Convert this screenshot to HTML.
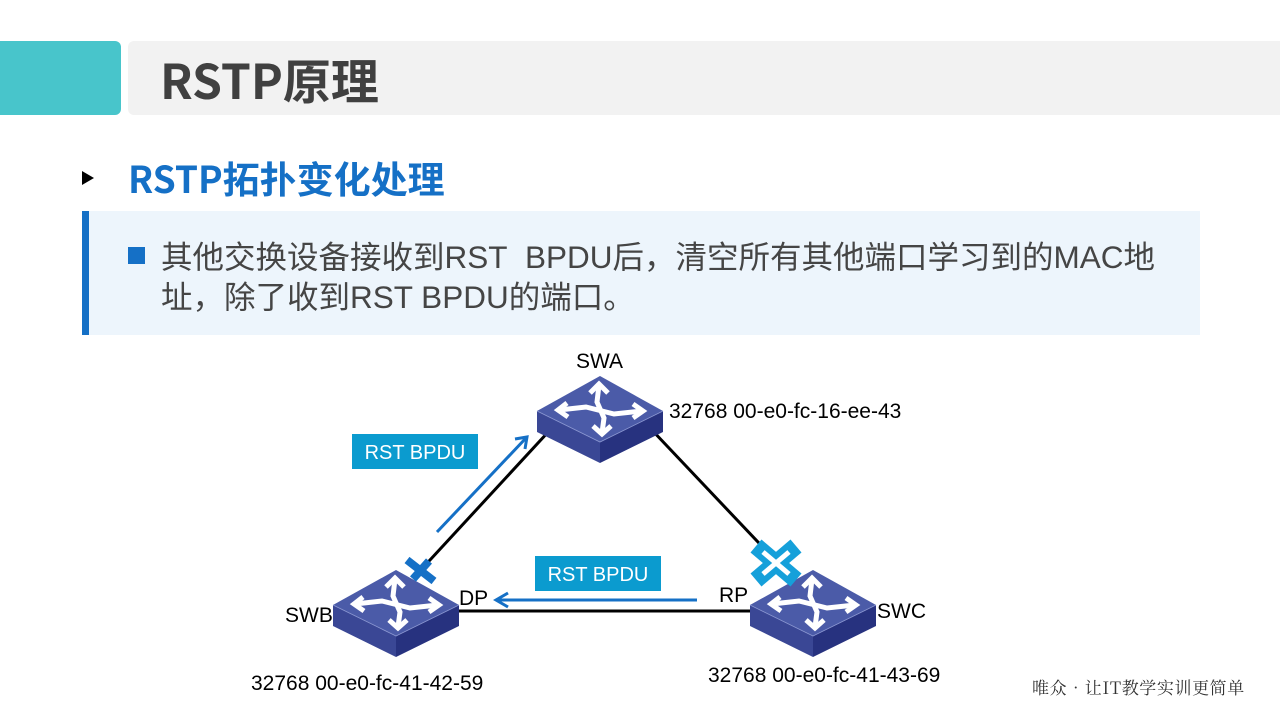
<!DOCTYPE html>
<html>
<head>
<meta charset="utf-8">
<style>
  html,body{margin:0;padding:0;}
  body{width:1280px;height:720px;position:relative;overflow:hidden;background:#fff;
       font-family:"Liberation Sans","Noto Sans CJK SC",sans-serif;}
  .teal{position:absolute;left:0;top:41px;width:121px;height:74px;background:#48C5CB;border-radius:0 6px 6px 0;}
  .gray{position:absolute;left:128px;top:41px;width:1152px;height:74px;background:#F2F2F2;border-radius:6px 0 0 6px;}
  .title{position:absolute;left:160px;top:41px;height:74px;line-height:74px;font-family:"Noto Sans CJK SC",sans-serif;
         font-weight:bold;font-size:48px;color:#404040;white-space:nowrap;}
  .tri{position:absolute;left:82px;top:171px;width:0;height:0;border-left:12px solid #000;border-top:7px solid transparent;border-bottom:7px solid transparent;}
  .sub{position:absolute;left:128px;top:155px;height:44px;line-height:44px;font-family:"Noto Sans CJK SC",sans-serif;
       font-weight:bold;font-size:37px;color:#1570C6;white-space:nowrap;}
  .box{position:absolute;left:82px;top:211px;width:1118px;height:124px;background:#EDF5FC;}
  .bar{position:absolute;left:82px;top:211px;width:7px;height:124px;background:#1570C6;}
  .sq{position:absolute;left:128px;top:247px;width:17px;height:17px;background:#1570C6;}
  .txt{position:absolute;left:161px;top:237px;line-height:40px;font-size:31.5px;color:#454545;white-space:nowrap;
       font-family:"Liberation Sans","Noto Sans CJK SC",sans-serif;}
  .foot{position:absolute;left:1032px;top:675px;font-size:17px;line-height:24px;color:#333;letter-spacing:0.6px;white-space:nowrap;
        font-family:"Noto Serif CJK SC","Liberation Serif",serif;}
  svg{position:absolute;left:0;top:0;}
</style>
</head>
<body>
<div class="teal"></div>
<div class="gray"></div>
<div class="title">RSTP原理</div>
<div class="tri"></div>
<div class="sub">RSTP拓扑变化处理</div>
<div class="box"></div>
<div class="bar"></div>
<div class="sq"></div>
<div class="txt">其他交换设备接收到RST&nbsp; BPDU后，清空所有其他端口学习到的MAC地<br>址，除了收到RST BPDU的端口。</div>

<svg width="1280" height="720" viewBox="0 0 1280 720" xmlns="http://www.w3.org/2000/svg">
  <!-- connection lines -->
  <g stroke="#000" stroke-width="3" fill="none">
    <line x1="418" y1="573" x2="550" y2="430"/>
    <line x1="650" y1="428" x2="792" y2="578"/>
    <line x1="455" y1="611" x2="755" y2="611"/>
  </g>

  <!-- SWA -->
  <g transform="translate(600,376)">
    <path d="M0,0 L63,35 L0,66 L-63,35 Z" fill="#4B5BA8"/>
    <path d="M-63,35 L0,66 L0,87 L-63,56 Z" fill="#3A4795"/>
    <path d="M0,66 L63,35 L63,56 L0,87 Z" fill="#27327F"/>
    <path d="M-63,35 L0,66 L63,35" stroke="#8C98D2" stroke-width="0.8" fill="none"/>
    <g stroke="#fff" stroke-width="5" fill="none" stroke-linejoin="miter">
      <polyline points="-1,9 -3,26 4,42 2,57"/>
      <polyline points="-10,17 -1,8 8,17"/>
      <polyline points="-7,50 2,58 11,50"/>
      <polyline points="-41,34 -14,31 14,38 42,35"/>
      <polyline points="-33,27 -42,34 -32,41"/>
      <polyline points="33,28 43,35 33,42"/>
    </g>
  </g>

  <!-- SWB -->
  <g transform="translate(396,570)">
    <path d="M0,0 L63,35 L0,66 L-63,35 Z" fill="#4B5BA8"/>
    <path d="M-63,35 L0,66 L0,87 L-63,56 Z" fill="#3A4795"/>
    <path d="M0,66 L63,35 L63,56 L0,87 Z" fill="#27327F"/>
    <path d="M-63,35 L0,66 L63,35" stroke="#8C98D2" stroke-width="0.8" fill="none"/>
    <g stroke="#fff" stroke-width="5" fill="none" stroke-linejoin="miter">
      <polyline points="-1,9 -3,26 4,42 2,57"/>
      <polyline points="-10,17 -1,8 8,17"/>
      <polyline points="-7,50 2,58 11,50"/>
      <polyline points="-41,34 -14,31 14,38 42,35"/>
      <polyline points="-33,27 -42,34 -32,41"/>
      <polyline points="33,28 43,35 33,42"/>
    </g>
  </g>

  <!-- SWC -->
  <g transform="translate(813,570)">
    <path d="M0,0 L63,35 L0,66 L-63,35 Z" fill="#4B5BA8"/>
    <path d="M-63,35 L0,66 L0,87 L-63,56 Z" fill="#3A4795"/>
    <path d="M0,66 L63,35 L63,56 L0,87 Z" fill="#27327F"/>
    <path d="M-63,35 L0,66 L63,35" stroke="#8C98D2" stroke-width="0.8" fill="none"/>
    <g stroke="#fff" stroke-width="5" fill="none" stroke-linejoin="miter">
      <polyline points="-1,9 -3,26 4,42 2,57"/>
      <polyline points="-10,17 -1,8 8,17"/>
      <polyline points="-7,50 2,58 11,50"/>
      <polyline points="-41,34 -14,31 14,38 42,35"/>
      <polyline points="-33,27 -42,34 -32,41"/>
      <polyline points="33,28 43,35 33,42"/>
    </g>
  </g>

  <!-- blue cross at SWB port -->
  <g stroke="#1570C6" stroke-width="8" stroke-linecap="butt">
    <line x1="407" y1="560" x2="434" y2="581"/>
    <line x1="413" y1="579" x2="429" y2="561"/>
  </g>

  <!-- big cyan X at SWC port -->
  <g transform="translate(776,563)">
    <g stroke="#15A0DA" stroke-width="17" stroke-linecap="butt">
      <line x1="-20" y1="-17" x2="20" y2="17"/>
      <line x1="20" y1="-17" x2="-20" y2="17"/>
    </g>
    <g stroke="#fff" stroke-width="5">
      <line x1="-13" y1="-11" x2="13" y2="11"/>
      <line x1="13" y1="-11" x2="-13" y2="11"/>
    </g>
  </g>

  <!-- blue arrows -->
  <g stroke="#1570C6" stroke-width="3" fill="none">
    <line x1="437" y1="532" x2="526" y2="438"/>
    <polyline points="515,439 527,437 525,449"/>
    <line x1="697" y1="600" x2="497" y2="600"/>
    <polyline points="508,593 496,600 508,607"/>
  </g>

  <!-- RST BPDU boxes -->
  <rect x="352" y="434" width="126" height="35" fill="#0B9BCF"/>
  <text x="415" y="459" font-family="Liberation Sans, sans-serif" font-size="20" fill="#fff" text-anchor="middle">RST BPDU</text>
  <rect x="535" y="556" width="126" height="35" fill="#0B9BCF"/>
  <text x="598" y="581" font-family="Liberation Sans, sans-serif" font-size="20" fill="#fff" text-anchor="middle">RST BPDU</text>

  <!-- labels -->
  <g font-family="Liberation Sans, sans-serif" font-size="21" fill="#000">
    <text x="576" y="368">SWA</text>
    <text x="669" y="418">32768 00-e0-fc-16-ee-43</text>
    <text x="285" y="622">SWB</text>
    <text x="459" y="605">DP</text>
    <text x="719" y="602">RP</text>
    <text x="877" y="618">SWC</text>
    <text x="251" y="690">32768 00-e0-fc-41-42-59</text>
    <text x="708" y="682">32768 00-e0-fc-41-43-69</text>
  </g>
</svg>

<div class="foot">唯众•让IT教学实训更简单</div>
</body>
</html>
